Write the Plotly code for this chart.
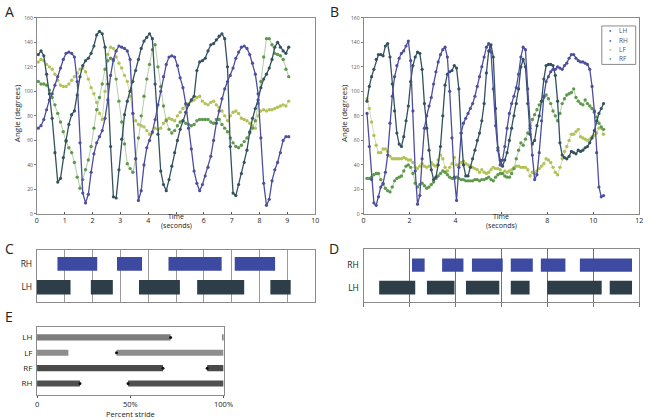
import plotly.graph_objects as go

W, H = 656, 420
def PX(x): return x / W
def PY(y): return 1 - y / H

# ---------------- Panel A data (time in s, angle in degrees) ----------------
tA = [0.05,0.15,0.25,0.35,0.45,0.55,0.65,0.75,0.85,0.95,
      1.05,1.15,1.25,1.35,1.45,1.55,1.65,1.75,1.85,1.95,
      2.05,2.15,2.25,2.35,2.45,2.55,2.65,2.75,2.85,2.95,
      3.05,3.15,3.25,3.35,3.45,3.55,3.65,3.75,3.85,3.95,
      4.05,4.15,4.25,4.35,4.45,4.55,4.65,4.75,4.85,4.95,
      5.05,5.15,5.25,5.35,5.45,5.55,5.65,5.75,5.85,5.95,
      6.05,6.15,6.25,6.35,6.45,6.55,6.65,6.75,6.85,6.95,
      7.05,7.15,7.25,7.35,7.45,7.55,7.65,7.75,7.85,7.95,
      8.05,8.15,8.25,8.35,8.45,8.55,8.65,8.75,8.85,8.95,
      9.05]
LH_A = [130,133,129,114,98,78,50,26,29,46, 60,73,81,84,97,112,121,125,127,131,
        137,146,149,147,136,106,55,14,13,36, 61,81,92,100,108,117,126,135,141,144,
        147,143,106,65,35,24,19,28,39,50, 60,69,76,83,89,93,96,117,124,125,
        127,133,138,139,142,145,147,143,120,55, 17,15,24,33,42,52,67,78,86,93,
        103,110,114,119,126,136,140,136,133,131, 136]
RH_A = [70,72,77,85,93,98,105,112,119,126, 131,132,131,128,108,58,17,9,16,34,
        49,58,63,68,78,93,113,126,133,137, 136,135,133,126,82,45,11,19,40,54,
        60,67,77,89,100,112,122,128,129,128, 121,111,103,90,70,53,35,25,19,24,
        31,38,47,60,74,84,94,102,108,113, 119,127,132,136,137,135,130,123,114,98,
        62,25,7,12,27,36,42,50,60,63, 63]
LF_A = [124,126,125,122,120,118,114,109,105,104, 104,106,109,112,115,118,119,116,110,103,
        98,91,82,77,100,130,136,135,128,123, 119,113,108,96,82,76,73,72,71,68,
        65,66,70,69,70,74,77,78,77,76, 80,83,86,89,90,92,93,95,96,92,
        90,89,91,92,89,87,84,80,76,80, 83,84,82,78,77,76,74,72,70,80,
        84,85,84,85,85,86,87,88,89,88, 92]
RF_A = [108,106,106,105,101,95,89,82,75,67, 59,54,50,42,30,21,28,36,44,55,
        70,85,95,106,118,125,127,125,110,92, 75,57,41,37,34,45,62,80,96,110,
        122,134,138,120,104,88,76,69,66,68, 72,75,76,74,73,72,73,76,77,77,
        77,77,75,74,77,77,73,70,67,62, 58,55,54,56,59,62,66,70,76,90,
        108,128,143,143,138,131,130,129,126,118, 112]

# ---------------- Panel B data ----------------
tB = [0.15,0.25,0.35,0.45,0.55,0.65,0.75,0.85,0.95,1.05,
      1.15,1.25,1.35,1.45,1.55,1.65,1.75,1.85,1.95,2.05,
      2.15,2.25,2.35,2.45,2.55,2.65,2.75,2.85,2.95,3.05,
      3.15,3.25,3.35,3.45,3.55,3.65,3.75,3.85,3.95,4.05,
      4.15,4.25,4.35,4.45,4.55,4.65,4.75,4.85,4.95,5.05,
      5.15,5.25,5.35,5.45,5.55,5.65,5.75,5.85,5.95,6.05,
      6.15,6.25,6.35,6.45,6.55,6.65,6.75,6.85,6.95,7.05,
      7.15,7.25,7.35,7.45,7.55,7.65,7.75,7.85,7.95,8.05,
      8.15,8.25,8.35,8.45,8.55,8.65,8.75,8.85,8.95,9.05,
      9.15,9.25,9.35,9.45,9.55,9.65,9.75,9.85,9.95,10.05,
      10.15,10.25,10.35,10.45]
LH_B = [92,104,112,118,126,130,130,129,137,139, 128,106,84,66,57,55,63,76,88,108,
        121,128,132,131,118,90,70,52,36,28, 30,40,55,80,105,114,116,117,121,119,
        102,66,40,31,31,38,45,52,60,66, 76,90,115,133,138,128,86,54,44,39,
        44,50,60,70,80,90,102,120,126,120, 90,65,57,60,72,80,92,110,121,122,
        122,121,113,92,58,48,46,45,47,51, 50,49,52,51,52,54,55,58,62,68,
        76,82,86,90]
RH_B = [82,55,28,9,7,14,22,25,34,48, 74,96,112,121,127,131,133,137,141,125,
        84,35,8,15,45,70,80,88,95,106, 116,124,130,134,136,128,100,62,30,11,
        38,66,74,78,82,86,90,96,104,112, 120,128,136,139,132,102,72,52,40,44,
        55,70,82,90,96,103,114,128,136,134, 102,70,48,28,32,50,76,96,108,112,
        116,118,118,120,119,118,121,123,127,130, 130,127,125,124,124,123,122,118,104,84,
        50,22,14,15]
LF_B = [94,86,75,64,56,50,50,53,53,51, 47,45,45,45,45,45,46,45,44,44,
        42,38,37,39,41,39,38,39,42,40, 39,44,48,45,38,35,38,41,46,40,
        40,42,43,41,40,39,38,37,36,34, 36,34,33,34,36,38,37,37,36,33,
        35,34,35,36,38,39,39,38,38,38, 36,31,34,33,35,37,39,41,45,44,
        42,38,34,32,38,45,51,55,60,65, 65,67,69,63,62,61,60,61,63,64,
        66,70,70,65]
RF_B = [29,29,30,32,33,33,28,24,21,19, 18,22,27,29,30,31,35,39,40,38,
        33,25,22,24,25,23,21,22,24,26, 29,31,33,35,34,32,30,29,29,30,
        29,28,28,27,27,27,27,28,28,27, 28,28,29,30,28,27,30,32,33,33,
        31,30,30,33,37,45,52,58,56,61, 66,72,77,81,85,89,92,95,97,94,
        90,84,80,76,82,90,94,97,98,99, 102,95,92,90,89,93,90,88,86,83,
        79,74,71,69]

# ---------------- Panel C / D stance bars (seconds) ----------------
C_RH_start = [0.74, 2.88, 4.73, 7.11]
C_RH_end   = [2.17, 3.78, 6.64, 8.56]
C_LH_start = [0.00, 1.94, 3.67, 5.76, 8.39]
C_LH_end   = [1.21, 2.73, 5.14, 7.45, 9.12]
D_RH_start = [2.11, 3.42, 4.72, 6.41, 7.72, 9.42]
D_RH_end   = [2.66, 4.35, 6.06, 7.37, 8.79, 11.69]
D_LH_start = [0.68, 2.76, 4.46, 6.41, 8.00, 10.72]
D_LH_end   = [2.25, 3.96, 5.91, 7.23, 10.37, 11.69]

# ---------------- Panel E (percent stride) ----------------
E_rows = ['RH', 'RF', 'LF', 'LH']
E_start = {'LH': [0, 99.3], 'LF': [0, 42.6], 'RF': [0, 91.2], 'RH': [0, 48.8]}
E_end   = {'LH': [71.6, 100], 'LF': [16.8, 100], 'RF': [67.5, 100], 'RH': [23.0, 100]}
E_dots  = {'LH': [71.6], 'LF': [42.6], 'RF': [67.5, 91.2], 'RH': [23.0, 48.8]}
E_colors = {'LH': '#7d7d7d', 'LF': '#8e8e8e', 'RF': '#4a4a4a', 'RH': '#505050'}

COL = {'LH': '#33515e', 'RH': '#4d4e9e', 'LF': '#b2c257', 'RF': '#5f9a4c'}
LINE = {'LH': '#33515e', 'RH': '#4d4e9e', 'LF': '#c9d09a', 'RF': '#9fbf93'}
FONT = 'Open Sans'
TXT = '#222222'

fig = go.Figure()

def add_lines(t, series, xa, ya):
    for name in ['LF', 'RF', 'LH', 'RH']:
        thick = name in ('LH', 'RH')
        fig.add_trace(go.Scatter(
            x=t, y=series[name], mode='lines+markers', xaxis=xa, yaxis=ya,
            line=dict(color=LINE[name], width=1.3 if thick else 0.8),
            marker=dict(color=COL[name], size=3.2 if thick else 3.4),
            showlegend=False, hoverinfo='skip'))

add_lines(tA, {'LH': LH_A, 'RH': RH_A, 'LF': LF_A, 'RF': RF_A}, 'x', 'y')
add_lines(tB, {'LH': LH_B, 'RH': RH_B, 'LF': LF_B, 'RF': RF_B}, 'x2', 'y2')

def add_bars(starts, ends, row, color, xa, ya, width):
    fig.add_trace(go.Bar(
        orientation='h', y=[row] * len(starts), base=starts,
        x=[e - s for s, e in zip(starts, ends)], width=width,
        marker=dict(color=color, line=dict(width=0)),
        xaxis=xa, yaxis=ya, showlegend=False, hoverinfo='skip'))

add_bars(C_RH_start, C_RH_end, 1, '#3d4aa2', 'x3', 'y3', 0.59)
add_bars(C_LH_start, C_LH_end, 0, '#2d3e48', 'x3', 'y3', 0.62)
add_bars(D_RH_start, D_RH_end, 1, '#3d4aa2', 'x4', 'y4', 0.59)
add_bars(D_LH_start, D_LH_end, 0, '#2d3e48', 'x4', 'y4', 0.62)

for i, r in enumerate(E_rows):
    add_bars(E_start[r], E_end[r], i, E_colors[r], 'x5', 'y5', 0.40)
    fig.add_trace(go.Scatter(
        x=E_dots[r], y=[i] * len(E_dots[r]), mode='markers', xaxis='x5', yaxis='y5',
        marker=dict(color='#111111', size=3), showlegend=False, hoverinfo='skip'))

# ---------------- axes ----------------
ax_common = dict(showline=True, linecolor='#8a8a8a', linewidth=1, mirror=True,
                 zeroline=False, showgrid=False)
yA_dom = [PY(214), PY(15)]
ytick = dict(tickvals=list(range(0, 161, 20)), tickfont=dict(size=5, color='#555', family=FONT),
             ticks='outside', ticklen=2, tickcolor='#777', range=[0, 160])

fig.update_layout(
    xaxis=dict(domain=[PX(35.5), PX(319)], range=[0, 10],
               tickvals=list(range(0, 11)),
               ticktext=['0', '1', '2', '3', '4', '', '6', '7', '8', '9', '10'],
               tickfont=dict(size=7, color=TXT, family=FONT), ticks='inside', ticklen=2,
               tickcolor='#555', **ax_common),
    yaxis=dict(domain=yA_dom, **ytick, **ax_common),
    xaxis2=dict(domain=[PX(368.3), PX(649)], range=[0, 12],
                tickvals=list(range(0, 13, 2)),
                ticktext=['0', '2', '4', '', '8', '10', '12'],
                tickfont=dict(size=7, color=TXT, family=FONT), ticks='inside', ticklen=2,
                tickcolor='#555', **ax_common),
    yaxis2=dict(domain=yA_dom, anchor='x2', **ytick, **ax_common),
    xaxis3=dict(domain=[PX(35.5), PX(319)], range=[0, 10], anchor='y3',
                showticklabels=False, showline=True, linecolor='#8a8a8a', mirror=True,
                zeroline=False, showgrid=True, dtick=1, gridcolor='#9a9a9a', gridwidth=1),
    yaxis3=dict(domain=[PY(303.3), PY(250.7)], range=[-0.636, 1.593], anchor='x3',
                tickvals=[0, 1], ticktext=['LH', 'RH'], ticks='',
                tickfont=dict(size=8.5, color=TXT, family=FONT), ticklabelstandoff=2,
                **ax_common),
    xaxis4=dict(domain=[PX(368.3), PX(649)], range=[0, 12], anchor='y4',
                showticklabels=False, showline=True, linecolor='#8a8a8a', mirror=True,
                ticks='outside', ticklen=4, tickcolor='#777', tickvals=list(range(0, 13, 2)),
                zeroline=False, showgrid=True, gridcolor='#6f6f6f', gridwidth=1),
    yaxis4=dict(domain=[PY(303.3), PY(250)], range=[-0.643, 1.705], anchor='x4',
                tickvals=[0, 1], ticktext=['LH', 'RH'], ticks='',
                tickfont=dict(size=8.5, color=TXT, family=FONT), ticklabelstandoff=2,
                **ax_common),
    xaxis5=dict(domain=[PX(35.7), PX(225.7)], range=[0, 100], anchor='y5',
                tickvals=[0, 50, 100], ticktext=['0', '50%', '100%'],
                tickfont=dict(size=7.5, color=TXT, family=FONT), ticks='outside', ticklen=2,
                tickcolor='#555', **ax_common),
    yaxis5=dict(domain=[PY(397.3), PY(329)], range=[-0.726, 3.66], anchor='x5',
                tickvals=[0, 1, 2, 3], ticktext=E_rows, ticks='',
                tickfont=dict(size=8, color=TXT, family=FONT), ticklabelstandoff=2,
                **ax_common),
    barmode='overlay',
    width=W, height=H, margin=dict(l=0, r=0, t=0, b=0),
    paper_bgcolor='white', plot_bgcolor='white',
    font=dict(family=FONT, color=TXT),
    showlegend=False,
)

ann = []
def text(x, y, s, size, xanchor='center', yanchor='middle', color=TXT, angle=0):
    ann.append(dict(x=PX(x), y=PY(y), xref='paper', yref='paper', text=s, showarrow=False,
                    xanchor=xanchor, yanchor=yanchor, textangle=angle, borderpad=0,
                    font=dict(size=size, color=color, family=FONT)))

for letter, x, y in [('A', 2, 9), ('B', 333, 9), ('C', 2, 249), ('D', 332, 249), ('E', 2, 318.5)]:
    text(x, y, letter, 14, xanchor='left')
text(177.5, 216.5, 'Time', 7)
text(177.5, 225.5, '(seconds)', 7)
text(508.6, 216.5, 'Time', 7)
text(508.6, 225.5, '(seconds)', 7)
text(15, 112, 'Angle (degrees)', 8, angle=-90)
text(348, 112, 'Angle (degrees)', 8, angle=-90)
text(130.7, 416.5, 'Percent stride', 7.5)

# legend for panel B
legend_y = [28.3, 38.3, 47.5, 56.7]
for name, yy in zip(['LH', 'RH', 'LF', 'RF'], legend_y):
    text(620, yy, '<span style="color:%s">\u25cf</span>' % COL[name], 4)
    text(627, yy, name, 6.5, xanchor='left', color='#555')
fig.update_layout(annotations=ann, shapes=[dict(type='rect', xref='paper', yref='paper',
                  x0=PX(611), x1=PX(645.5), y0=PY(62.3), y1=PY(23.3),
                  line=dict(color='#8a8a8a', width=1), fillcolor='white', layer='above')])

fig.write_html('out.html', config={'displayModeBar': False},
               post_script="document.body.style.margin='0';document.body.style.padding='0';")
